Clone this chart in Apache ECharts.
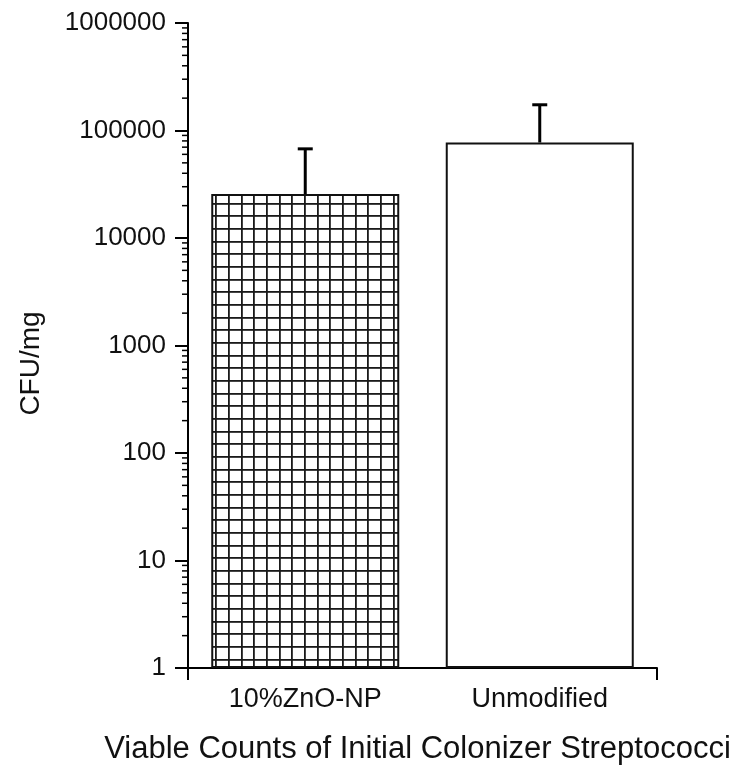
<!DOCTYPE html>
<html><head><meta charset="utf-8">
<script src="https://cdn.jsdelivr.net/npm/echarts@6/dist/echarts.min.js"></script>
<style>html,body{margin:0;padding:0;background:#fff}#c{width:736px;height:770px}</style>
</head><body><div id="c"></div>
<script>
const categories = ['10%ZnO-NP', 'Unmodified'];
const means = [25600, 77300];
const errTops = [67500, 173500];
const yMin = 1, yMax = 1000000;
const FONT = 'Liberation Sans, Arial, sans-serif';

function hatch() {
  const c = document.createElement('canvas');
  c.width = 38; c.height = 38;
  const g = c.getContext('2d');
  g.fillStyle = '#fff'; g.fillRect(0, 0, 38, 38);
  g.fillStyle = '#1a1a1a';
  [0, 13, 25].forEach(p => { g.fillRect(p, 0, 1.8, 38); g.fillRect(0, p, 38, 1.8); });
  return c;
}

// minor tick values 2..9 x 10^k within axis range
const minorVals = [];
for (let k = 0; k < 6; k++) for (let m = 2; m <= 9; m++) minorVals.push(m * Math.pow(10, k));

const chart = echarts.init(document.getElementById('c'));
chart.setOption({
  animation: false,
  backgroundColor: '#fff',
  grid: { left: 188, right: 79, top: 23, bottom: 102 },
  xAxis: [{
    type: 'category', data: categories, boundaryGap: true,
    axisLine: { lineStyle: { color: '#000', width: 2 } },
    axisTick: { alignWithLabel: true, length: 12, lineStyle: { color: '#000', width: 2 } },
    axisLabel: { color: '#111', fontSize: 27, fontFamily: FONT, margin: 18 },
    name: 'Viable Counts of Initial Colonizer Streptococci',
    nameLocation: 'middle', nameGap: 66,
    nameTextStyle: { color: '#111', fontSize: 31, fontFamily: FONT, padding: [0, 10, 0, 0] }
  }, {
    type: 'category', data: ['', ''], boundaryGap: false, position: 'bottom',
    axisLine: { show: false },
    axisTick: { length: 12, lineStyle: { color: '#000', width: 2 } },
    axisLabel: { show: false }
  }],
  yAxis: {
    type: 'log', logBase: 10, min: yMin, max: yMax,
    axisLine: { show: true, lineStyle: { color: '#000', width: 2 } },
    axisTick: { show: true, length: 13, lineStyle: { color: '#000', width: 2 } },
    splitLine: { show: false },
    axisLabel: { color: '#111', fontSize: 26, fontFamily: FONT, margin: 22, formatter: v => String(Math.round(v)) },
    name: 'CFU/mg', nameLocation: 'middle', nameGap: 143,
    nameTextStyle: { color: '#111', fontSize: 28, fontFamily: FONT, padding: [0, 36, 0, 0] }
  },
  series: [{
    type: 'bar', xAxisIndex: 0, barWidth: 188,
    data: means.map((v, i) => ({
      value: v,
      itemStyle: i === 0
        ? { color: { image: hatch(), repeat: 'repeat' }, borderColor: '#111', borderWidth: 2 }
        : { color: '#fff', borderColor: '#111', borderWidth: 2 }
    })),
    z: 2
  }, {
    type: 'custom', xAxisIndex: 0, z: 3,
    data: categories.map((c, i) => [i, means[i], errTops[i]]),
    renderItem: (params, api) => {
      const b = api.coord([api.value(0), api.value(1)]);
      const t = api.coord([api.value(0), api.value(2)]);
      return { type: 'group', children: [
        { type: 'line', shape: { x1: b[0], y1: b[1], x2: t[0], y2: t[1] }, style: { stroke: '#000', lineWidth: 3 } },
        { type: 'line', shape: { x1: t[0] - 7.5, y1: t[1], x2: t[0] + 7.5, y2: t[1] }, style: { stroke: '#000', lineWidth: 3 } }
      ]};
    }
  }, {
    type: 'custom', xAxisIndex: 0, z: 4, clip: false, silent: true,
    data: minorVals.map(v => [0, v]),
    renderItem: (params, api) => {
      const p = api.coord([0, api.value(1)]);
      const x = params.coordSys.x;
      return { type: 'line', shape: { x1: x - 6, y1: p[1], x2: x, y2: p[1] }, style: { stroke: '#000', lineWidth: 1.5 } };
    }
  }]
});
</script></body></html>
